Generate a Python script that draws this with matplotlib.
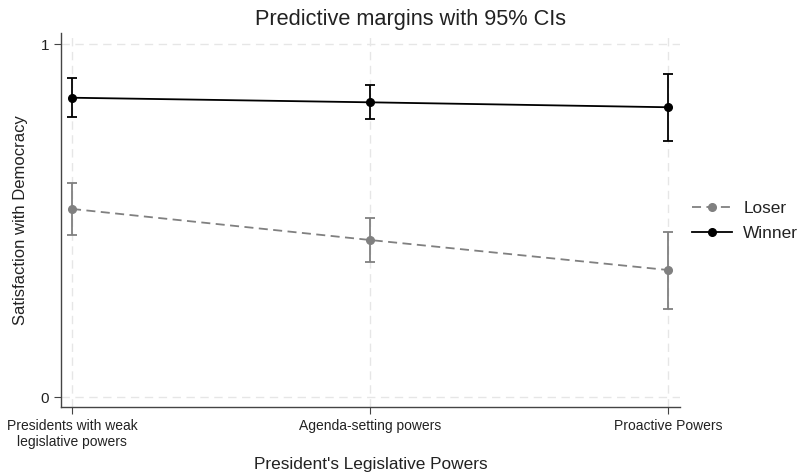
import matplotlib
matplotlib.use("Agg")
import matplotlib.pyplot as plt

categories = ["Presidents with weak\nlegislative powers", "Agenda-setting powers", "Proactive Powers"]
winner = [0.848, 0.835, 0.821]
winner_lo = [0.792, 0.787, 0.726]
winner_hi = [0.903, 0.883, 0.915]
loser = [0.533, 0.445, 0.360]
loser_lo = [0.459, 0.383, 0.251]
loser_hi = [0.606, 0.506, 0.468]

plt.rcParams['font.family'] = ['Liberation Sans', 'DejaVu Sans']
fig = plt.figure(figsize=(8, 4.73), dpi=100)
ax = fig.add_axes([0.07625, 0.1395, 0.7738, 0.7905])
x = list(range(len(categories)))

for xi in x:
    ax.axvline(xi, color='#e6e6e6', lw=1, ls=(0, (6, 4)), zorder=0)
for yv in [0, 1]:
    ax.axhline(yv, color='#e6e6e6', lw=1, ls=(0, (6, 4)), zorder=0)

lc = '#808080'
ax.errorbar(x, loser, yerr=[[l - lo for l, lo in zip(loser, loser_lo)], [hi - l for l, hi in zip(loser, loser_hi)]],
            fmt='none', ecolor=lc, elinewidth=1.3, capsize=3.5, capthick=1.3, zorder=2)
ax.plot(x, loser, color=lc, ls=(0, (5, 3)), lw=1.3, marker='o', ms=5.5, label='Loser', zorder=3)
ax.errorbar(x, winner, yerr=[[w - lo for w, lo in zip(winner, winner_lo)], [hi - w for w, hi in zip(winner, winner_hi)]],
            fmt='none', ecolor='black', elinewidth=1.3, capsize=3.5, capthick=1.3, zorder=2)
ax.plot(x, winner, color='black', lw=1.3, marker='o', ms=5.5, label='Winner', zorder=3)

ax.set_xlim(-0.037, 2.04)
ax.set_ylim(-0.028, 1.031)
ax.set_xticks(x)
ax.set_xticklabels(categories, fontsize=10, color='#222222')
ax.set_yticks([0, 1])
ax.set_yticklabels(['0', '1'], fontsize=11, color='#222222')
for s in ['top', 'right']:
    ax.spines[s].set_visible(False)
for s in ['left', 'bottom']:
    ax.spines[s].set_color('#444444')
    ax.spines[s].set_linewidth(1)
ax.tick_params(axis='both', length=5, color='#444444')

ax.set_title('Predictive margins with 95% CIs', fontsize=15.7, color='#222222', pad=6, x=0.565)
ax.set_xlabel("President's Legislative Powers", fontsize=12.4, color='#222222', labelpad=6)
ax.set_ylabel('Satisfaction with Democracy', fontsize=12.0, color='#222222', labelpad=9)

leg = ax.legend(loc='center left', bbox_to_anchor=(0.995, 0.497), frameon=False, fontsize=12.4,
                handlelength=2.3, handletextpad=0.65, labelspacing=0.6)
for t in leg.get_texts():
    t.set_color('#222222')

fig.savefig('out.png', dpi=100)
